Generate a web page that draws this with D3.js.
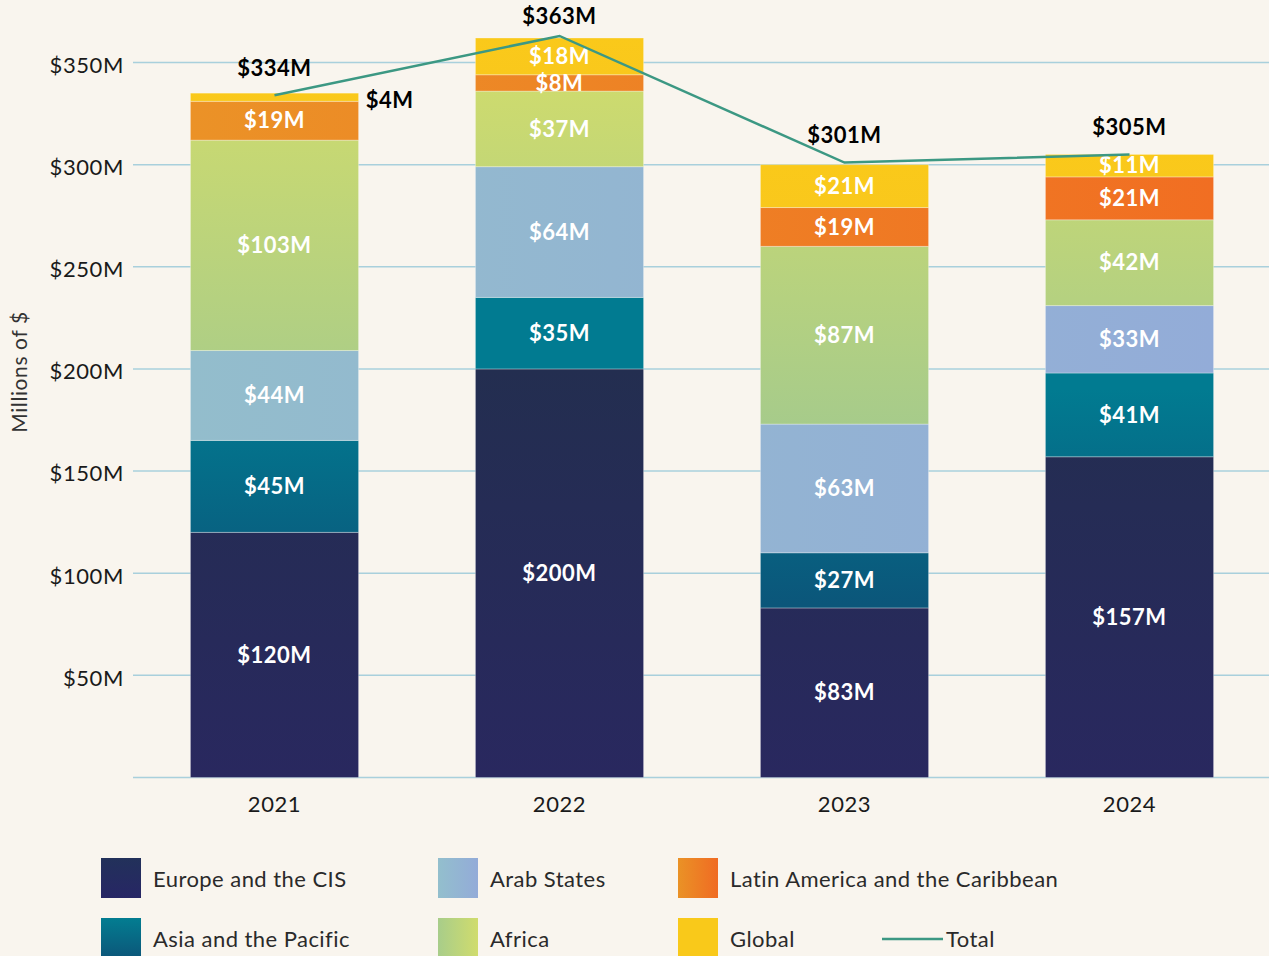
<!DOCTYPE html>
<html>
<head>
<meta charset="utf-8">
<script src="https://cdn.jsdelivr.net/npm/d3@7"></script>
<style>
  html, body { margin: 0; padding: 0; background: #f9f5ee; }
  svg { display: block; font-family: "Lato", "Open Sans", sans-serif; }
</style>
</head>
<body>
<div id="chart"></div>
<script>
// chart data
const years = ["2021", "2022", "2023", "2024"];
const regions = ["Europe and the CIS", "Asia and the Pacific", "Arab States", "Africa", "Latin America and the Caribbean", "Global"];
const europe = [120, 200, 83, 157];
const asia = [45, 35, 27, 41];
const arab = [44, 64, 63, 33];
const africa = [103, 37, 87, 42];
const latin = [19, 8, 19, 21];
const global = [4, 18, 21, 11];
const totals = [334, 363, 301, 305];
const yTicks = [50, 100, 150, 200, 250, 300, 350];

const seriesValues = [europe, asia, arab, africa, latin, global];
const rows = years.map((yr, i) => {
  const r = { year: yr };
  regions.forEach((k, j) => r[k] = seriesValues[j][i]);
  return r;
});

const W = 1269, H = 956;
const svg = d3.select("#chart").append("svg")
  .attr("width", W)
  .attr("height", H);

svg.append("rect").attr("width", W).attr("height", H).attr("fill", "#f9f5ee");

const x = d3.scaleBand()
  .domain(years)
  .range([132, 1272])
  .paddingInner(0.41)
  .paddingOuter(0.205);

const y = d3.scaleLinear()
  .domain([0, 350])
  .range([777.5, 62.5]);

// gradients
const defs = svg.append("defs");
function grad(id, stops, opts) {
  const g = defs.append("linearGradient").attr("id", id);
  Object.entries(opts).forEach(([k, v]) => g.attr(k, v));
  stops.forEach((c, i) => g.append("stop")
    .attr("offset", i / (stops.length - 1))
    .attr("stop-color", c));
}
const vert = { x1: 0, y1: 0, x2: 0, y2: 1 };
const horiz = { x1: 0, y1: 0, x2: 1, y2: 0 };
const acrossX = { gradientUnits: "userSpaceOnUse", x1: 190, y1: 0, x2: 1215, y2: 0 };
grad("g-europe", ["#232e50", "#29285f"], { gradientUnits: "userSpaceOnUse", x1: 0, y1: y(200), x2: 0, y2: y(0) });
grad("g-asia", ["#017b91", "#0b567a"], { gradientUnits: "userSpaceOnUse", x1: 0, y1: y(190), x2: 0, y2: y(85) });
grad("g-arab", ["#93bdcc", "#93acd8"], acrossX);
grad("g-africa", ["#d3dd6a", "#a6cb8b"], { gradientUnits: "userSpaceOnUse", x1: 0, y1: y(363), x2: 0, y2: y(170) });
grad("g-latin", ["#eb9227", "#f16e22"], acrossX);
grad("g-global", ["#fac91a", "#f9c81c"], vert);
// legend versions
grad("l-europe", ["#22315a", "#272665"], vert);
grad("l-asia", ["#037d91", "#0c5679"], vert);
grad("l-arab", ["#93bfcd", "#93abd8"], horiz);
grad("l-africa", ["#a8cd8a", "#d0dc6d"], horiz);
grad("l-latin", ["#ea9226", "#f06b23"], horiz);
grad("l-global", ["#f9c91a", "#f9c91a"], horiz);

const fills = ["europe", "asia", "arab", "africa", "latin", "global"];

// gridlines
svg.append("g")
  .selectAll("line")
  .data([0].concat(yTicks))
  .join("line")
  .attr("x1", 133)
  .attr("x2", W)
  .attr("y1", d => y(d))
  .attr("y2", d => y(d))
  .attr("stroke", "#a9d0dc")
  .attr("stroke-width", 1.5);

// y tick labels
svg.append("g")
  .selectAll("text")
  .data(yTicks)
  .join("text")
  .attr("x", 124)
  .attr("y", d => y(d))
  .attr("dy", "0.47em")
  .attr("text-anchor", "end")
  .attr("font-size", 22)
  .attr("letter-spacing", 0.6)
  .attr("fill", "#1a1a1a")
  .text(d => "$" + d + "M");

svg.append("text")
  .attr("transform", "translate(27,372) rotate(-90)")
  .attr("text-anchor", "middle")
  .attr("font-size", 21)
  .attr("letter-spacing", 0.6)
  .attr("fill", "#333")
  .text("Millions of $");

// x labels
svg.append("g")
  .selectAll("text")
  .data(years)
  .join("text")
  .attr("x", d => x(d) + x.bandwidth() / 2)
  .attr("y", 804)
  .attr("dy", "0.35em")
  .attr("text-anchor", "middle")
  .attr("font-size", 22)
  .attr("letter-spacing", 0.6)
  .attr("fill", "#1a1a1a")
  .text(d => d);

// stacked bars
const stack = d3.stack().keys(regions)(rows);

const layers = svg.append("g")
  .selectAll("g")
  .data(stack)
  .join("g")
  .attr("fill", (d, i) => `url(#g-${fills[i]})`);

layers.selectAll("rect")
  .data(d => d)
  .join("rect")
  .attr("x", d => x(d.data.year))
  .attr("y", d => y(d[1]))
  .attr("width", x.bandwidth())
  .attr("height", d => y(d[0]) - y(d[1]))
  .attr("stroke", "rgba(255,255,255,0.3)")
  .attr("stroke-width", 1);

// segment labels
const isSmall = d => d[1] - d[0] < 6;
stack.forEach(layer => {
  svg.append("g")
    .selectAll("text")
    .data(layer)
    .join("text")
    .attr("x", d => isSmall(d) ? x(d.data.year) + x.bandwidth() + 31 : x(d.data.year) + x.bandwidth() / 2)
    .attr("y", d => isSmall(d) ? y(d[1]) + 7 : y((d[0] + d[1]) / 2))
    .attr("dy", "0.35em")
    .attr("text-anchor", "middle")
    .attr("font-size", 22)
    .attr("letter-spacing", 0.5)
    .attr("font-weight", 700)
    .attr("fill", d => isSmall(d) ? "#000" : "#fff")
    .text(d => "$" + (d[1] - d[0]) + "M");
});

// total line
const line = d3.line()
  .x((d, i) => x(years[i]) + x.bandwidth() / 2)
  .y(d => y(d));

svg.append("path")
  .datum(totals)
  .attr("d", line)
  .attr("fill", "none")
  .attr("stroke", "#3c9883")
  .attr("stroke-width", 2.5);

svg.append("g")
  .selectAll("text")
  .data(totals)
  .join("text")
  .attr("x", (d, i) => x(years[i]) + x.bandwidth() / 2)
  .attr("y", d => Math.max(y(d) - 27, 16))
  .attr("dy", "0.35em")
  .attr("text-anchor", "middle")
  .attr("font-size", 22)
  .attr("letter-spacing", 0.5)
  .attr("font-weight", 700)
  .attr("fill", "#000")
  .text(d => "$" + d + "M");

// legend
const legendCols = [101, 438, 678];
const legendRows = [858, 918];
const legend = svg.append("g");
regions.forEach((name, i) => {
  const col = Math.floor(i / 2), row = i % 2;
  const lx = legendCols[col], ly = legendRows[row];
  legend.append("rect")
    .attr("x", lx)
    .attr("y", ly)
    .attr("width", 40)
    .attr("height", 40)
    .attr("fill", `url(#l-${fills[i]})`);
  legend.append("text")
    .attr("x", lx + 52)
    .attr("y", ly + 21)
    .attr("dy", "0.35em")
    .attr("font-size", 22)
    .attr("letter-spacing", 0.45)
    .attr("fill", "#2a2a2a")
    .text(name);
});
legend.append("line")
  .attr("x1", 882).attr("x2", 943)
  .attr("y1", 939).attr("y2", 939)
  .attr("stroke", "#3c9883")
  .attr("stroke-width", 2.5);
legend.append("text")
  .attr("x", 946)
  .attr("y", 939)
  .attr("dy", "0.35em")
  .attr("font-size", 22)
  .attr("letter-spacing", 0.45)
  .attr("fill", "#2a2a2a")
  .text("Total");
</script>
</body>
</html>
